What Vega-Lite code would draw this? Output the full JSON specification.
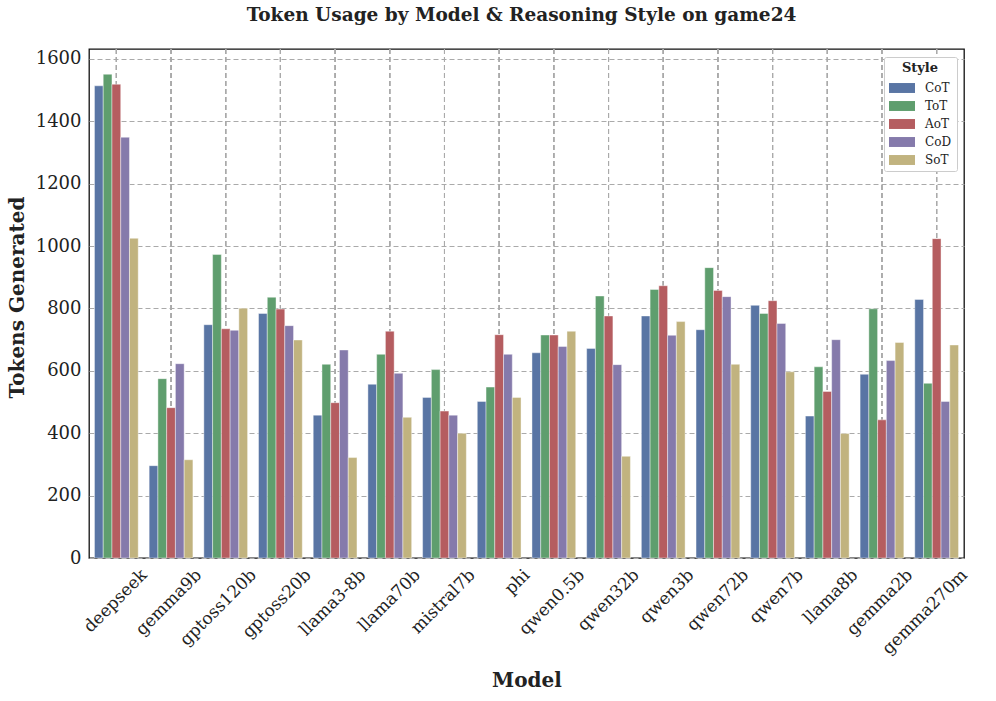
{
  "$schema": "https://vega.github.io/schema/vega-lite/v6.json",
  "width": 875,
  "height": 509,
  "autosize": {"type": "none"},
  "padding": {"left": 89, "top": 49, "right": 32, "bottom": 143},
  "background": "white",
  "title": {
    "text": "Token Usage by Model & Reasoning Style on game24",
    "font": "DejaVu Serif",
    "fontSize": 18.5,
    "fontWeight": "bold",
    "color": "#222222",
    "anchor": "middle",
    "offset": 24,
    "dx": -5
  },
  "config": {
    "view": {"stroke": "#111111", "strokeWidth": 1.3},
    "font": "DejaVu Serif",
    "axis": {"labelFont": "DejaVu Serif", "titleFont": "DejaVu Serif", "labelColor": "#222222", "titleColor": "#222222"}
  },
  "data": {
    "values": [
      {"model": "deepseek", "style": "CoT", "tokens": 1514},
      {"model": "deepseek", "style": "ToT", "tokens": 1551},
      {"model": "deepseek", "style": "AoT", "tokens": 1519},
      {"model": "deepseek", "style": "CoD", "tokens": 1349},
      {"model": "deepseek", "style": "SoT", "tokens": 1025},
      {"model": "gemma9b", "style": "CoT", "tokens": 296},
      {"model": "gemma9b", "style": "ToT", "tokens": 575},
      {"model": "gemma9b", "style": "AoT", "tokens": 482},
      {"model": "gemma9b", "style": "CoD", "tokens": 623},
      {"model": "gemma9b", "style": "SoT", "tokens": 315},
      {"model": "gptoss120b", "style": "CoT", "tokens": 748},
      {"model": "gptoss120b", "style": "ToT", "tokens": 973},
      {"model": "gptoss120b", "style": "AoT", "tokens": 735},
      {"model": "gptoss120b", "style": "CoD", "tokens": 730},
      {"model": "gptoss120b", "style": "SoT", "tokens": 801},
      {"model": "gptoss20b", "style": "CoT", "tokens": 784},
      {"model": "gptoss20b", "style": "ToT", "tokens": 836},
      {"model": "gptoss20b", "style": "AoT", "tokens": 798},
      {"model": "gptoss20b", "style": "CoD", "tokens": 745},
      {"model": "gptoss20b", "style": "SoT", "tokens": 699},
      {"model": "llama3-8b", "style": "CoT", "tokens": 458},
      {"model": "llama3-8b", "style": "ToT", "tokens": 621},
      {"model": "llama3-8b", "style": "AoT", "tokens": 498},
      {"model": "llama3-8b", "style": "CoD", "tokens": 667},
      {"model": "llama3-8b", "style": "SoT", "tokens": 322},
      {"model": "llama70b", "style": "CoT", "tokens": 557},
      {"model": "llama70b", "style": "ToT", "tokens": 653},
      {"model": "llama70b", "style": "AoT", "tokens": 727},
      {"model": "llama70b", "style": "CoD", "tokens": 592},
      {"model": "llama70b", "style": "SoT", "tokens": 451},
      {"model": "mistral7b", "style": "CoT", "tokens": 515},
      {"model": "mistral7b", "style": "ToT", "tokens": 604},
      {"model": "mistral7b", "style": "AoT", "tokens": 471},
      {"model": "mistral7b", "style": "CoD", "tokens": 458},
      {"model": "mistral7b", "style": "SoT", "tokens": 400},
      {"model": "phi", "style": "CoT", "tokens": 502},
      {"model": "phi", "style": "ToT", "tokens": 548},
      {"model": "phi", "style": "AoT", "tokens": 716},
      {"model": "phi", "style": "CoD", "tokens": 653},
      {"model": "phi", "style": "SoT", "tokens": 515},
      {"model": "qwen0.5b", "style": "CoT", "tokens": 658},
      {"model": "qwen0.5b", "style": "ToT", "tokens": 715},
      {"model": "qwen0.5b", "style": "AoT", "tokens": 715},
      {"model": "qwen0.5b", "style": "CoD", "tokens": 678},
      {"model": "qwen0.5b", "style": "SoT", "tokens": 727},
      {"model": "qwen32b", "style": "CoT", "tokens": 672},
      {"model": "qwen32b", "style": "ToT", "tokens": 840},
      {"model": "qwen32b", "style": "AoT", "tokens": 776},
      {"model": "qwen32b", "style": "CoD", "tokens": 620},
      {"model": "qwen32b", "style": "SoT", "tokens": 326},
      {"model": "qwen3b", "style": "CoT", "tokens": 776},
      {"model": "qwen3b", "style": "ToT", "tokens": 861},
      {"model": "qwen3b", "style": "AoT", "tokens": 873},
      {"model": "qwen3b", "style": "CoD", "tokens": 714},
      {"model": "qwen3b", "style": "SoT", "tokens": 758},
      {"model": "qwen72b", "style": "CoT", "tokens": 732},
      {"model": "qwen72b", "style": "ToT", "tokens": 931},
      {"model": "qwen72b", "style": "AoT", "tokens": 858},
      {"model": "qwen72b", "style": "CoD", "tokens": 838},
      {"model": "qwen72b", "style": "SoT", "tokens": 621},
      {"model": "qwen7b", "style": "CoT", "tokens": 810},
      {"model": "qwen7b", "style": "ToT", "tokens": 784},
      {"model": "qwen7b", "style": "AoT", "tokens": 825},
      {"model": "qwen7b", "style": "CoD", "tokens": 752},
      {"model": "qwen7b", "style": "SoT", "tokens": 597},
      {"model": "llama8b", "style": "CoT", "tokens": 455},
      {"model": "llama8b", "style": "ToT", "tokens": 613},
      {"model": "llama8b", "style": "AoT", "tokens": 534},
      {"model": "llama8b", "style": "CoD", "tokens": 700},
      {"model": "llama8b", "style": "SoT", "tokens": 399},
      {"model": "gemma2b", "style": "CoT", "tokens": 589},
      {"model": "gemma2b", "style": "ToT", "tokens": 799},
      {"model": "gemma2b", "style": "AoT", "tokens": 443},
      {"model": "gemma2b", "style": "CoD", "tokens": 633},
      {"model": "gemma2b", "style": "SoT", "tokens": 691},
      {"model": "gemma270m", "style": "CoT", "tokens": 829},
      {"model": "gemma270m", "style": "ToT", "tokens": 560},
      {"model": "gemma270m", "style": "AoT", "tokens": 1024},
      {"model": "gemma270m", "style": "CoD", "tokens": 502},
      {"model": "gemma270m", "style": "SoT", "tokens": 683}
    ]
  },
  "layer": [
    {
      "mark": {"type": "rule", "color": "#aaaaaa", "strokeDash": [5, 3], "strokeWidth": 1},
      "encoding": {
        "x": {"field": "model", "type": "nominal", "sort": null}
      }
    },
    {
      "mark": {"type": "bar", "stroke": "white", "strokeWidth": 0.6, "strokeOpacity": 0.7},
      "encoding": {
        "x": {"field": "model", "type": "nominal", "sort": null},
        "xOffset": {
          "field": "style",
          "type": "nominal",
          "sort": ["CoT", "ToT", "AoT", "CoD", "SoT"]
        },
        "y": {
          "field": "tokens",
          "type": "quantitative",
          "scale": {"domain": [0, 1632], "nice": false},
          "axis": {
            "title": "Tokens Generated",
            "titleFontSize": 20,
            "titleFontWeight": "bold",
            "titlePadding": 8,
            "titleY": 248,
            "values": [0, 200, 400, 600, 800, 1000, 1200, 1400, 1600],
            "format": "d",
            "labelFontSize": 18,
            "labelPadding": 8,
            "ticks": false,
            "domain": false,
            "grid": true,
            "gridColor": "#aaaaaa",
            "gridDash": [5, 3],
            "gridWidth": 1
          }
        },
        "color": {
          "field": "style",
          "type": "nominal",
          "sort": ["CoT", "ToT", "AoT", "CoD", "SoT"],
          "scale": {
            "domain": ["CoT", "ToT", "AoT", "CoD", "SoT"],
            "range": ["#5975a4", "#5f9e6e", "#b55d60", "#857aab", "#c1b37f"]
          },
          "legend": {
            "title": "Style",
            "orient": "none",
            "legendX": 795,
            "legendY": 8,
            "titleFontSize": 13,
            "titleFontWeight": "bold",
            "titleAnchor": "middle",
            "titleColor": "#222222",
            "titlePadding": 6,
            "labelFontSize": 12,
            "labelColor": "#222222",
            "symbolType": "M-1.86,-0.71H1.86V0.71H-1.86Z",
            "symbolSize": 196,
            "symbolStrokeWidth": 0,
            "symbolOpacity": 1,
            "symbolOffset": 6,
            "rowPadding": 5,
            "labelOffset": 16,
            "fillColor": "white",
            "strokeColor": "#cccccc",
            "padding": 5,
            "cornerRadius": 2
          }
        }
      }
    }
  ],
  "encoding": {
    "x": {
      "field": "model",
      "type": "nominal",
      "sort": null,
      "scale": {"paddingInner": 0.2, "paddingOuter": 0.1},
      "axis": {
        "title": "Model",
        "titleFontSize": 20,
        "titleFontWeight": "bold",
        "titleY": 122,
        "titleBaseline": "middle",
        "labelAngle": -45,
        "labelAlign": "right",
        "labelBaseline": "middle",
        "labelFontSize": 17,
        "labelPadding": 14,
        "labelOffset": 28,
        "ticks": false,
        "domain": false,
        "grid": false
      }
    }
  }
}
